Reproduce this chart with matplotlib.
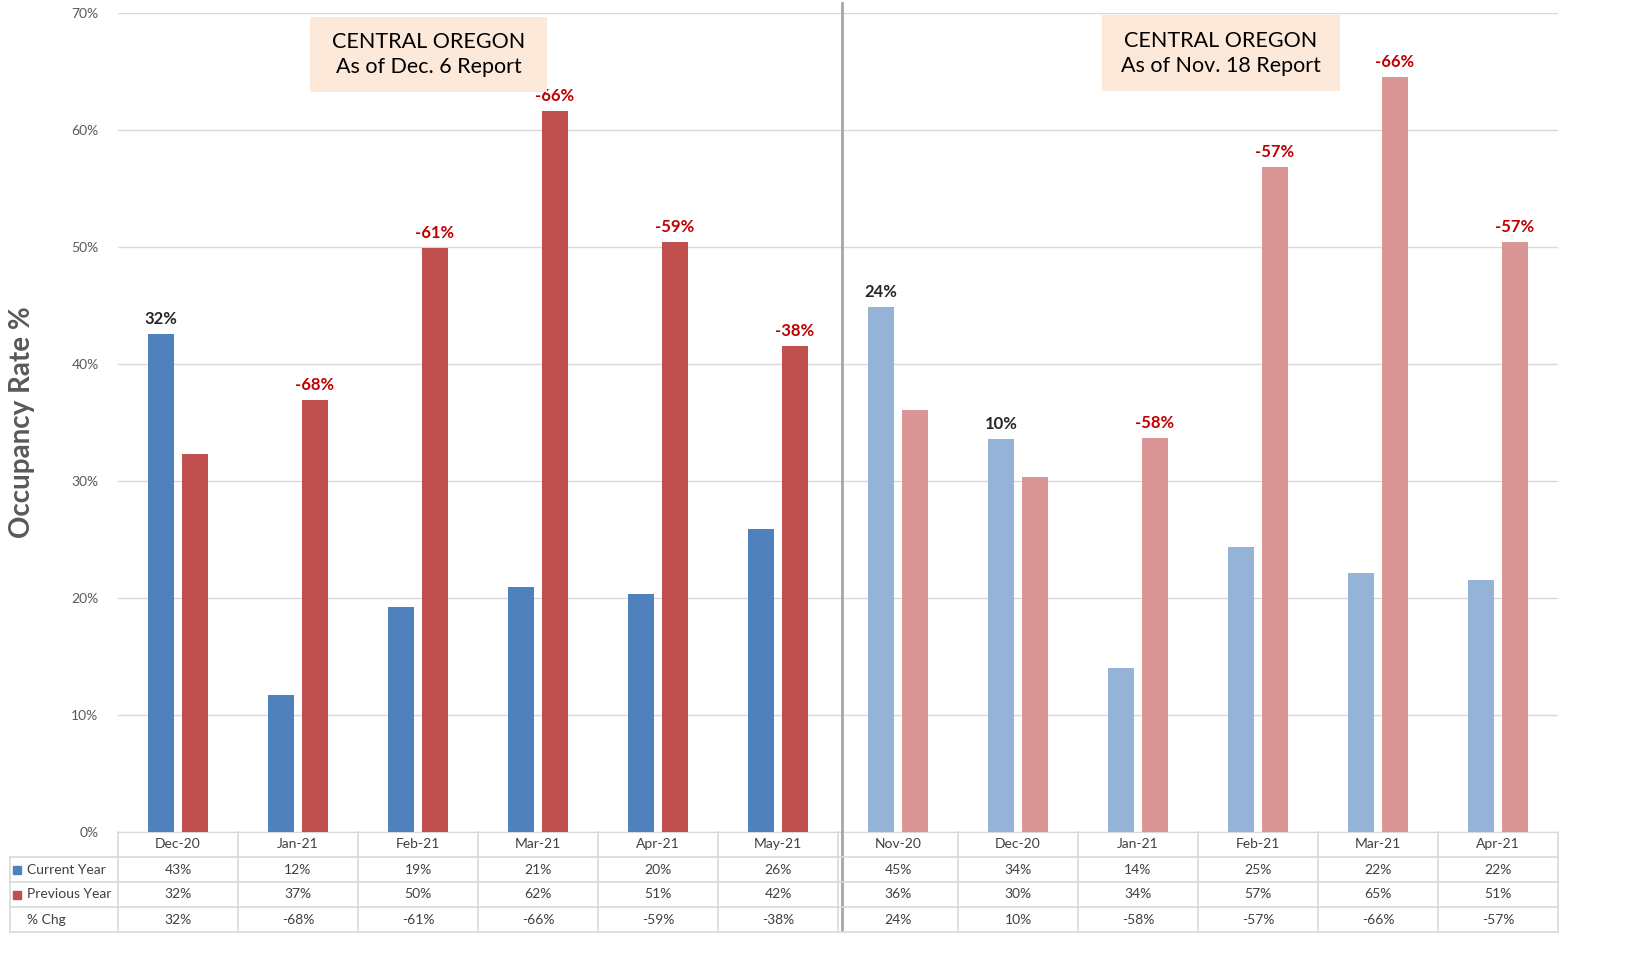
import matplotlib
matplotlib.use("Agg")
import matplotlib.pyplot as plt
import matplotlib.transforms as mtransforms
from matplotlib.patches import Rectangle
import numpy as np

plt.rcParams['font.family'] = ['Lato', 'DejaVu Sans']

categories = ["Dec-20", "Jan-21", "Feb-21", "Mar-21", "Apr-21", "May-21",
              "Nov-20", "Dec-20", "Jan-21", "Feb-21", "Mar-21", "Apr-21"]
current_year = [42.6, 11.7, 19.2, 20.9, 20.3, 25.9,
                44.9, 33.6, 14.0, 24.4, 22.1, 21.5]
previous_year = [32.3, 36.9, 49.9, 61.6, 50.4, 41.5,
                 36.1, 30.3, 33.7, 56.8, 64.5, 50.4]
pct_chg_labels = ["32%", "-68%", "-61%", "-66%", "-59%", "-38%",
                  "24%", "10%", "-58%", "-57%", "-66%", "-57%"]
current_labels = ["43%", "12%", "19%", "21%", "20%", "26%",
                  "45%", "34%", "14%", "25%", "22%", "22%"]
previous_labels = ["32%", "37%", "50%", "62%", "51%", "42%",
                   "36%", "30%", "34%", "57%", "65%", "51%"]
row_names = ["Current Year", "Previous Year", "% Chg"]
box_texts = ["CENTRAL OREGON\nAs of Dec. 6 Report", "CENTRAL OREGON\nAs of Nov. 18 Report"]

W, H = 1639, 974
fig = plt.figure(figsize=(W / 100, H / 100), dpi=100)

ax_l, ax_r, ax_b, ax_t = 118, 1558, 832, 13
ax = fig.add_axes([ax_l / W, (H - ax_b) / H, (ax_r - ax_l) / W, (ax_b - ax_t) / H])

n = len(categories)
x = np.arange(n)
bw = 0.217
off = 0.142
dark_blue, dark_red = "#4F81BD", "#C0504D"
light_blue, light_red = "#95B3D7", "#DA9694"
blue_cols = [dark_blue] * 6 + [light_blue] * 6
red_cols = [dark_red] * 6 + [light_red] * 6

ax.bar(x - off, current_year, bw, color=blue_cols, zorder=3)
ax.bar(x + off, previous_year, bw, color=red_cols, zorder=3)

for i in range(n):
    lab = pct_chg_labels[i]
    col = "#C00000" if lab.startswith("-") else "#262626"
    if current_year[i] >= previous_year[i]:
        xx, yy = x[i] - off, current_year[i]
    else:
        xx, yy = x[i] + off, previous_year[i]
    ax.text(xx, yy + 0.6, lab, ha="center", va="bottom", fontsize=12,
            fontweight="bold", color=col, zorder=4)

ax.set_xlim(-0.5, n - 0.5)
ax.set_ylim(0, 70)
ax.set_yticks(np.arange(0, 71, 10))
ax.set_yticklabels([f"{v}%" for v in range(0, 71, 10)], fontsize=10, color="#595959")
ax.tick_params(axis="y", length=0, pad=14)
ax.set_xticks([])
ax.grid(axis="y", color="#D9D9D9", lw=1, zorder=0)
for s in ["left", "right", "top"]:
    ax.spines[s].set_visible(False)
ax.spines["bottom"].set_color("#D9D9D9")

fig.text(22 / W, 0.5 + (H / 2 - 422) / H, "Occupancy Rate %", rotation=90,
         ha="center", va="center", fontsize=20, fontweight="bold", color="#595959")

# annotation boxes
boxes = [(1.10, 3.075, 63.25, 69.66), (7.70, 9.68, 63.3, 69.8)]
for (x0, x1, y0, y1), t in zip(boxes, box_texts):
    ax.add_patch(Rectangle((x0, y0), x1 - x0, y1 - y0, facecolor="#FDE9D9",
                           edgecolor="none", zorder=5))
    ax.text((x0 + x1) / 2, (y0 + y1) / 2, t, ha="center", va="center",
            fontsize=15.5, color="#000000", linespacing=1.35, zorder=6)

# data table
tab_l, tab_b, tab_t = 10, 932, 832
left_units = -0.5 - (ax_l - tab_l) / ((ax_r - ax_l) / n)
axt = fig.add_axes([tab_l / W, (H - tab_b) / H, (ax_r - tab_l) / W, (tab_b - tab_t) / H])
axt.set_xlim(left_units, n - 0.5)
axt.set_ylim(4, 0)
axt.axis("off")
gc = "#D9D9D9"
# horizontal lines
for r in [1, 2, 3, 4]:
    axt.plot([left_units, n - 0.5], [r, r], color=gc, lw=1.2, clip_on=False)
# vertical lines
for b in np.arange(-0.5, n, 1.0):
    axt.plot([b, b], [0, 4], color=gc, lw=1.2, clip_on=False)
axt.plot([left_units, left_units], [1, 4], color=gc, lw=1.2, clip_on=False)

tcol = "#404040"
for i in range(n):
    axt.text(x[i], 0.5, categories[i], ha="center", va="center", fontsize=10, color=tcol)
    axt.text(x[i], 1.5, current_labels[i], ha="center", va="center", fontsize=10, color=tcol)
    axt.text(x[i], 2.5, previous_labels[i], ha="center", va="center", fontsize=10, color=tcol)
    axt.text(x[i], 3.5, pct_chg_labels[i], ha="center", va="center", fontsize=10, color=tcol)

unit_px = (ax_r - ax_l) / n
key_x = left_units + 7 / unit_px
txt_x = left_units + 17 / unit_px
axt.plot([key_x], [1.5], marker="s", markersize=6, color=dark_blue, clip_on=False)
axt.plot([key_x], [2.5], marker="s", markersize=6, color=dark_red, clip_on=False)
axt.text(txt_x, 1.5, row_names[0], ha="left", va="center", fontsize=10, color=tcol)
axt.text(txt_x, 2.5, row_names[1], ha="left", va="center", fontsize=10, color=tcol)
axt.text(txt_x, 3.5, row_names[2], ha="left", va="center", fontsize=10, color=tcol)

# separator line
trans = mtransforms.blended_transform_factory(ax.transData, fig.transFigure)
sep_x = 5.5 + 4 / unit_px
ax.plot([sep_x, sep_x], [(H - 930) / H, (H - 3) / H], color="#A6A6A6", lw=2,
        transform=trans, clip_on=False, zorder=7)

fig.savefig("out.png", dpi=100)
